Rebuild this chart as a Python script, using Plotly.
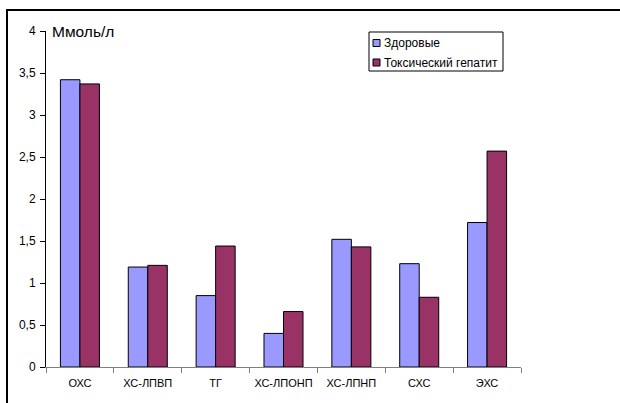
import plotly.graph_objects as go

categories = ["ОХС", "ХС-ЛПВП", "ТГ", "ХС-ЛПОНП", "ХС-ЛПНП", "СХС", "ЭХС"]
healthy = [3.42, 1.19, 0.85, 0.40, 1.52, 1.23, 1.72]
hepatitis = [3.37, 1.21, 1.44, 0.66, 1.43, 0.83, 2.57]
series_names = ["Здоровые", "Токсический гепатит"]
series_colors = ["#9999FF", "#993366"]
y_tick_vals = [0, 0.5, 1, 1.5, 2, 2.5, 3, 3.5, 4]
y_tick_text = ["0", "0,5", "1", "1,5", "2", "2,5", "3", "3,5", "4"]
unit_label = "Ммоль/л"

FONT = "Liberation Sans, Arial, sans-serif"

fig = go.Figure()
for name, color, values in zip(series_names, series_colors, [healthy, hepatitis]):
    fig.add_trace(go.Bar(
        x=categories, y=values, name=name, showlegend=False,
        marker=dict(color=color, line=dict(color="#000000", width=1)),
    ))

W, H = 620, 403
L, R, T, B = 46, 99, 31, 36
pw, ph = W - L - R, H - T - B

def px_x(x):
    return (x - L) / pw

def px_y(y):
    return (H - B - y) / ph

shapes = [dict(
    type="rect", xref="paper", yref="paper",
    x0=px_x(7), x1=px_x(660), y0=px_y(440), y1=px_y(10),
    line=dict(color="black", width=2), fillcolor="rgba(0,0,0,0)",
    layer="below",
)]
annotations = [dict(
    text=unit_label, xref="paper", yref="paper",
    x=px_x(50), y=px_y(31), xanchor="left", yanchor="middle",
    showarrow=False, font=dict(family=FONT, size=15.5, color="black"),
)]

# Boxed legend in the upper right of the plot
shapes.append(dict(
    type="rect", xref="paper", yref="paper",
    x0=px_x(369), x1=px_x(503), y0=px_y(71), y1=px_y(32),
    line=dict(color="black", width=1), fillcolor="white",
))
for i, (name, color) in enumerate(zip(series_names, series_colors)):
    cy = 43 + i * 19.5
    shapes.append(dict(
        type="rect", xref="paper", yref="paper",
        x0=px_x(373), x1=px_x(380), y0=px_y(cy + 3.5), y1=px_y(cy - 3.5),
        line=dict(color="black", width=1), fillcolor=color,
    ))
    annotations.append(dict(
        text=name, xref="paper", yref="paper",
        x=px_x(382), y=px_y(cy), xanchor="left", yanchor="middle",
        showarrow=False, font=dict(family=FONT, size=12, color="black"),
    ))

fig.update_layout(
    width=W, height=H,
    margin=dict(l=L, r=R, t=T, b=B, pad=0),
    paper_bgcolor="white", plot_bgcolor="white",
    font=dict(family=FONT, size=11, color="black"),
    barmode="group", bargap=0.425, bargroupgap=0,
    showlegend=False,
    xaxis=dict(
        type="category", showline=True, linecolor="#808080", linewidth=1,
        ticks="outside", tickson="boundaries", ticklen=5, tickcolor="#808080",
        showgrid=False, tickfont=dict(size=11), ticklabelstandoff=6,
    ),
    yaxis=dict(
        range=[0, 4], showline=True, linecolor="black", linewidth=1,
        ticks="outside", ticklen=5, tickcolor="black",
        tickvals=y_tick_vals, ticktext=y_tick_text,
        showgrid=False, zeroline=False, tickfont=dict(size=12),
        ticklabelstandoff=2,
    ),
    annotations=annotations,
    shapes=shapes,
)

fig.write_html("out.html")
